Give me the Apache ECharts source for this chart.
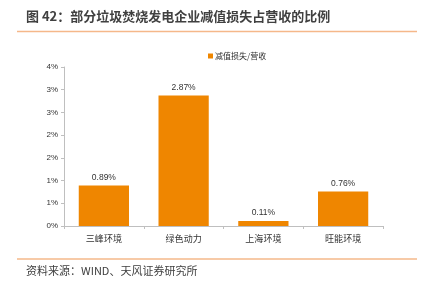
<!DOCTYPE html>
<html>
<head>
<meta charset="utf-8">
<script src="https://cdn.jsdelivr.net/npm/echarts@6/dist/echarts.min.js"></script>
<style>
  html, body { margin: 0; padding: 0; background: #fff; }
  #chart { width: 427px; height: 292px; }
</style>
</head>
<body>
<div id="chart"></div>
<script>
// Impairment losses as a share of revenue, selected waste-to-energy companies
const categories = ['三峰环境', '绿色动力', '上海环境', '旺能环境'];
const ratioValues = [0.89, 2.87, 0.11, 0.76];
const seriesName = '减值损失/营收';
const titleText = '图 42：部分垃圾焚烧发电企业减值损失占营收的比例';
const sourceText = '资料来源：WIND、天风证券研究所';

const FONT = '"Liberation Sans", "Noto Sans CJK SC", sans-serif';
const CJK = '"Noto Sans CJK SC", "Noto Sans", sans-serif';
const ORANGE = '#EF8600';
const RULE = '#F5B88A';

const chart = echarts.init(document.getElementById('chart'), null, { renderer: 'canvas' });

chart.setOption({
  animation: false,
  textStyle: { fontFamily: FONT },
  legend: {
    left: 203,
    top: 47,
    itemWidth: 5,
    itemHeight: 5,
    icon: 'rect',
    textStyle: { fontSize: 8, color: '#333', fontFamily: CJK, padding: [0, 0, 0, -3] },
    data: [seriesName]
  },
  grid: { left: 64, right: 44, top: 67, bottom: 66, containLabel: false },
  xAxis: {
    type: 'category',
    data: categories,
    axisLine: { lineStyle: { color: '#BFBFBF', width: 1 } },
    axisTick: { show: true, length: 3, lineStyle: { color: '#BFBFBF' } },
    axisLabel: { color: '#333', fontSize: 9, margin: 8, fontFamily: CJK }
  },
  yAxis: {
    type: 'value',
    min: 0,
    max: 3.5,
    interval: 0.5,
    axisLine: { show: true, lineStyle: { color: '#BFBFBF', width: 1 } },
    axisTick: { show: true, length: 3, lineStyle: { color: '#BFBFBF' } },
    splitLine: { show: false },
    axisLabel: {
      color: '#333',
      fontSize: 8,
      margin: 6,
      formatter: v => Math.round(v) + '%'
    }
  },
  series: [{
    name: seriesName,
    type: 'bar',
    data: ratioValues,
    barCategoryGap: '37%',
    itemStyle: { color: ORANGE },
    label: {
      show: true,
      position: 'top',
      distance: 4,
      color: '#333',
      fontSize: 8.5,
      formatter: p => p.value.toFixed(2) + '%'
    }
  }],
  graphic: [
    {
      type: 'text', left: 26, top: 10,
      style: { text: titleText, font: 'bold 13px ' + CJK, fill: '#404040' }
    },
    {
      type: 'line', shape: { x1: 17, y1: 31.5, x2: 417, y2: 31.5 },
      style: { stroke: RULE, lineWidth: 1.5 }
    },
    {
      type: 'line', shape: { x1: 17, y1: 259, x2: 417, y2: 259 },
      style: { stroke: RULE, lineWidth: 1.5 }
    },
    {
      type: 'text', left: 26, top: 265,
      style: { text: sourceText, font: '11px ' + CJK, fill: '#404040' }
    }
  ]
});
</script>
</body>
</html>
